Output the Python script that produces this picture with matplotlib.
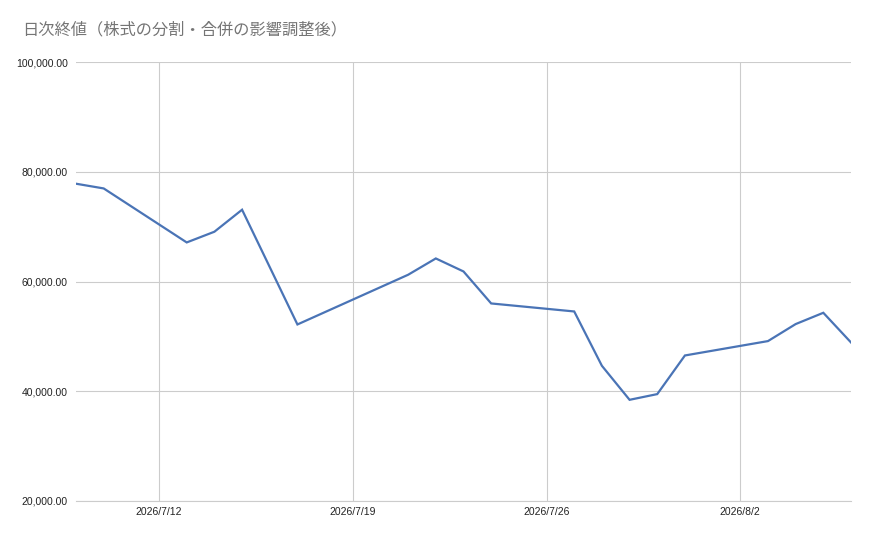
import matplotlib
matplotlib.use("Agg")
import matplotlib.pyplot as plt
import matplotlib.dates as mdates
import matplotlib.ticker as mticker
import pandas as pd

# 日次終値（読み取り値）
dates = [
    "2026-07-09", "2026-07-10", "2026-07-13", "2026-07-14", "2026-07-15",
    "2026-07-17", "2026-07-21", "2026-07-22", "2026-07-23", "2026-07-24",
    "2026-07-27", "2026-07-28", "2026-07-29", "2026-07-30", "2026-07-31",
    "2026-08-03", "2026-08-04", "2026-08-05", "2026-08-06",
]
close = [
    77820, 76960, 67120, 69070, 73080,
    52170, 61230, 64200, 61830, 56000,
    54540, 44640, 38440, 39480, 46520,
    49140, 52240, 54300, 48890,
]
y_ticks = [20000, 40000, 60000, 80000, 100000]
x_ticks = ["2026-07-12", "2026-07-19", "2026-07-26", "2026-08-02"]
title = "日次終値（株式の分割・合併の影響調整後）"

plt.rcParams['font.family'] = ['Liberation Sans', 'DejaVu Sans']

t = pd.to_datetime(dates)
fig = plt.figure(figsize=(8.7, 5.37), dpi=100)
ax = fig.add_axes([76 / 870, 1 - 501 / 537, (851 - 76) / 870, (501 - 62) / 537])

ax.plot(t, close, color='#4a74b6', linewidth=1.6, solid_joinstyle='miter')

ax.set_xlim(pd.Timestamp("2026-07-09"), pd.Timestamp("2026-08-06"))
ax.set_ylim(20000, 100000)
ax.set_yticks(y_ticks)
ax.set_xticks(pd.to_datetime(x_ticks))
ax.yaxis.set_major_formatter(mticker.FuncFormatter(lambda v, p: f"{v:,.2f}"))
ax.xaxis.set_major_formatter(
    mticker.FuncFormatter(lambda v, p: (lambda d: f"{d.year}/{d.month}/{d.day}")(mdates.num2date(v)))
)

ax.grid(True, color='#cccccc', linewidth=0.8)
ax.set_axisbelow(True)
for s in ['top', 'right', 'left']:
    ax.spines[s].set_visible(False)
ax.spines['bottom'].set_color('#cccccc')
ax.spines['bottom'].set_linewidth(0.8)
ax.tick_params(axis='both', length=0, labelsize=7.5, colors='#222222')
ax.tick_params(axis='y', pad=6)
ax.tick_params(axis='x', pad=4)

fig.text(22 / 870, 1 - 30 / 537, title, fontsize=11.7, color='#757575',
         va='center', ha='left', family=['Noto Sans CJK JP', 'DejaVu Sans'])

fig.savefig("out.png", dpi=100, facecolor='white')
